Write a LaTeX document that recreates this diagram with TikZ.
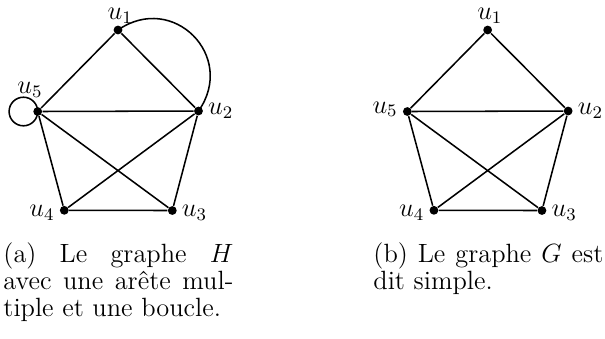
\documentclass[tikz,border=0pt]{standalone}
\begin{document}
\begin{tikzpicture}[x=0.4545pt,y=-0.4545pt,
  vtx/.style={circle,fill=black,inner sep=0pt,minimum size=4pt},
  lnk/.style={line width=0.7pt},
  captxt/.style={anchor=base west,inner sep=0pt},
  every label/.style={inner sep=1pt,font=\fontsize{11.5}{13}\selectfont},
  label distance=1pt]
\useasboundingbox (0,0) rectangle (605,338);
% graph H
\node[vtx,label={[xshift=1pt,yshift=-1.5pt]above:$u_1$}] (a1) at (118,30) {};
\node[vtx,label={right:$u_2$}] (a2) at (198.5,111) {};
\node[vtx,label={[yshift=-1pt]right:$u_3$}] (a3) at (172.3,210.5) {};
\node[vtx,label={[yshift=-1pt]left:$u_4$}] (a4) at (64.3,210.3) {};
\node[vtx,label={[xshift=-3.5pt,yshift=2pt]above:$u_5$}] (a5) at (37.7,111.5) {};
\draw[lnk] (a1) -- (a5) (a1) -- (a2) (a5) -- (a2) (a5) -- (a4) (a5) -- (a3)
  (a2) -- (a4) (a2) -- (a3) (a4) -- (a3);
\draw[lnk] (a1.center) to[bend left=80,looseness=1.5] (a2.center);
\draw[lnk] ([xshift=-6.5pt]a5.center) circle (6.5pt);
% graph G
\begin{scope}[xshift=168pt]
\node[vtx,label={[xshift=1pt,yshift=-1.5pt]above:$u_1$}] (b1) at (118,30) {};
\node[vtx,label={right:$u_2$}] (b2) at (198.5,111) {};
\node[vtx,label={[yshift=-1pt]right:$u_3$}] (b3) at (172.3,210.5) {};
\node[vtx,label={[yshift=-1pt]left:$u_4$}] (b4) at (64.3,210.3) {};
\node[vtx,label={[yshift=1pt]left:$u_5$}] (b5) at (37.7,111.5) {};
\draw[lnk] (b1) -- (b5) (b1) -- (b2) (b5) -- (b2) (b5) -- (b4) (b5) -- (b3)
  (b2) -- (b4) (b2) -- (b3) (b4) -- (b3);
\end{scope}
% captions
\node[captxt] (capa) at (3,262)
  {\parbox[t]{104.5pt}{\fontsize{12}{12.3}\selectfont\lineskiplimit=-20pt
   (a) Le graphe $H$\linebreak avec une ar\^ete mul-\linebreak tiple et une boucle.}};
\node[captxt] (capb) at (373,262)
  {\parbox[t]{104.5pt}{\fontsize{12}{12.3}\selectfont\lineskiplimit=-20pt
   (b) Le graphe $G$ est\linebreak dit simple.}};
\end{tikzpicture}
\end{document}
